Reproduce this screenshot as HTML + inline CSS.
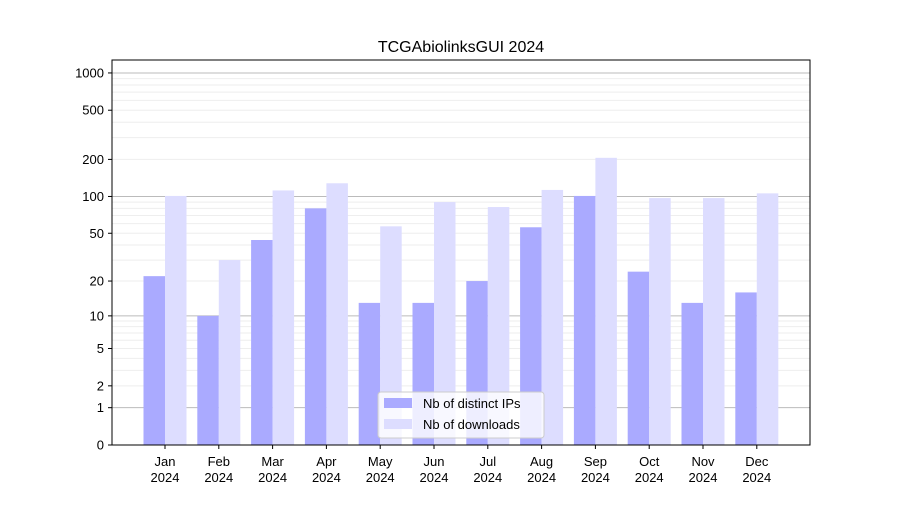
<!DOCTYPE html>
<html><head><meta charset="utf-8"><style>
body{margin:0;background:#fff}
svg{font-family:"Liberation Sans","DejaVu Sans",sans-serif}
</style></head><body>
<svg id="chart" width="900" height="500" xmlns="http://www.w3.org/2000/svg">
<rect width="900" height="500" fill="#fff"/>
<text x="461" y="52" font-size="16" text-anchor="middle" fill="#000">TCGAbiolinksGUI 2024</text>
<g id="grid"></g><g id="bars"></g><g id="axes"></g>
</svg>
<script>
const months = ["Jan","Feb","Mar","Apr","May","Jun","Jul","Aug","Sep","Oct","Nov","Dec"];
const distinctIPs = [22,10,44,80,13,13,20,56,101,24,13,16];
const downloads = [101,30,112,128,57,90,82,113,206,97,97,106];
const yTickLabels = [0,1,2,5,10,20,50,100,200,500,1000];
const NS="http://www.w3.org/2000/svg";
const L=112,R=810,T=60,B=445;
function y(v){return B-Math.log10(v+1)*124;}
function xc(i){return 165+i*53.8;}
function mk(tag,attrs,parent,txt){const e=document.createElementNS(NS,tag);for(const k in attrs)e.setAttribute(k,attrs[k]);if(txt!==undefined)e.textContent=txt;document.getElementById(parent).appendChild(e);return e;}
// grid
[1,10,100,1000].forEach(d=>{for(let m=1;m<10;m++){const v=d*m;if(y(v)<T)break;const g=mk('line',{x1:L,x2:R,y1:y(v),y2:y(v),stroke:m===1?'#bbb':'#eee','stroke-width':1},'grid');}});
// bars
const bw=21.5;
months.forEach((m,i)=>{
 const a=mk('rect',{x:xc(i)-bw,y:y(distinctIPs[i]),width:bw,height:B-y(distinctIPs[i]),fill:'#aaaaff'},'bars');
 
 const b=mk('rect',{x:xc(i),y:y(downloads[i]),width:bw,height:B-y(downloads[i]),fill:'#ddddff'},'bars');
 
 const t=mk('line',{x1:xc(i),x2:xc(i),y1:B,y2:B+4,stroke:'#000'},'axes');
 const l1=mk('text',{x:xc(i),y:466,'font-size':13,'text-anchor':'middle'},'axes',m);
 const l2=mk('text',{x:xc(i),y:482,'font-size':13,'text-anchor':'middle'},'axes','2024');
});
yTickLabels.forEach(v=>{
 const t=mk('line',{x1:L-4,x2:L,y1:y(v),y2:y(v),stroke:'#000'},'axes');
 const l=mk('text',{x:L-8,y:y(v)+4.5,'font-size':13,'text-anchor':'end'},'axes',String(v));
});
const fr=mk('rect',{x:L,y:T,width:R-L,height:B-T,fill:'none',stroke:'#000','stroke-width':1},'axes');
// legend
const lg=mk('g',{},'axes');lg.id='legend';
const lb=mk('rect',{x:378,y:392,width:166,height:46,rx:3,fill:'#fff','fill-opacity':0.8,stroke:'#ccc'},'legend');
const s1=mk('rect',{x:384,y:398,width:28,height:10,fill:'#aaaaff'},'legend');
const t1=mk('text',{x:423,y:408,'font-size':13},'legend','Nb of distinct IPs');
const s2=mk('rect',{x:384,y:419,width:28,height:10,fill:'#ddddff'},'legend');
const t2=mk('text',{x:423,y:429,'font-size':13},'legend','Nb of downloads');
</script>
</body></html>
